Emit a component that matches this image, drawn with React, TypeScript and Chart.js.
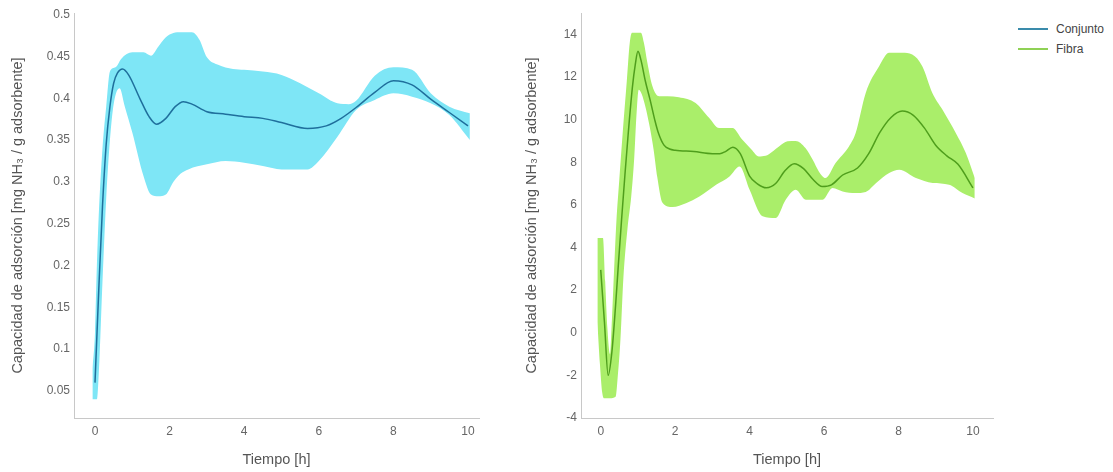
import React, { useEffect, useRef } from 'react';
import { Chart, registerables } from 'chart.js';

Chart.register(...registerables);

// ---------- data ----------
const seriesNames = ['Conjunto', 'Fibra'];

// Left panel: Conjunto (mean line)
const conjuntoX = [0, 0.1, 0.2, 0.3, 0.4, 0.5, 0.6, 0.74, 0.9, 1.2, 1.45, 1.65, 1.9, 2.15, 2.37, 2.6, 3, 3.5, 4, 4.5, 5, 5.7, 6.2, 6.6, 7, 7.5, 8, 8.5, 9, 9.5, 10];
const conjuntoY = [0.06, 0.17, 0.27, 0.345, 0.39, 0.418, 0.43, 0.435, 0.428, 0.4, 0.378, 0.369, 0.376, 0.39, 0.396, 0.393, 0.384, 0.381, 0.378, 0.376, 0.371, 0.364, 0.367, 0.376, 0.389, 0.407, 0.421, 0.416, 0.399, 0.383, 0.367];

// Left panel: band
const conjuntoUpperX = [-0.07, 0, 0.05, 0.1, 0.2, 0.3, 0.4, 0.55, 0.7, 0.85, 1.0, 1.3, 1.5, 1.7, 1.9, 2.1, 2.3, 2.6, 2.8, 3.0, 3.3, 3.7, 4.0, 4.5, 5.0, 5.5, 6.0, 6.5, 6.8, 7.0, 7.5, 8.0, 8.5, 9.0, 9.5, 10.05];
const conjuntoUpperY = [0.075, 0.12, 0.2, 0.26, 0.34, 0.39, 0.432, 0.437, 0.447, 0.453, 0.455, 0.455, 0.451, 0.462, 0.473, 0.478, 0.479, 0.479, 0.47, 0.449, 0.44, 0.435, 0.434, 0.432, 0.428, 0.418, 0.406, 0.394, 0.393, 0.397, 0.427, 0.437, 0.434, 0.406, 0.39, 0.382];
const conjuntoLowerX = [-0.07, 0.05, 0.1, 0.2, 0.3, 0.4, 0.5, 0.66, 0.8, 1.0, 1.3, 1.5, 1.7, 1.9, 2.1, 2.3, 2.5, 3.0, 3.5, 4.0, 4.5, 5.0, 5.7, 6.0, 6.5, 7.0, 7.5, 8.0, 8.5, 9.0, 9.5, 10.05];
const conjuntoLowerY = [0.04, 0.04, 0.07, 0.18, 0.28, 0.35, 0.393, 0.412, 0.39, 0.359, 0.307, 0.285, 0.283, 0.285, 0.3, 0.31, 0.315, 0.321, 0.325, 0.323, 0.319, 0.315, 0.315, 0.325, 0.354, 0.386, 0.398, 0.406, 0.402, 0.394, 0.38, 0.35];

// Right panel: Fibra (mean line)
const fibraX = [0, 0.1, 0.2, 0.3, 0.4, 0.47, 0.56, 0.65, 0.74, 0.85, 0.93, 1.0, 1.08, 1.2, 1.33, 1.45, 1.55, 1.7, 1.85, 2.0, 2.5, 3.0, 3.2, 3.35, 3.55, 3.75, 4.0, 4.2, 4.45, 4.7, 4.95, 5.2, 5.45, 5.7, 5.95, 6.2, 6.5, 6.9, 7.2, 7.5, 7.8, 8.1, 8.4, 8.7, 9.0, 9.3, 9.6, 10.0];
const fibraY = [2.95, 0.5, -2.0, -0.9, 1.3, 3.1, 5.3, 7.4, 9.37, 11.5, 12.6, 13.2, 12.8, 11.8, 10.9, 10.0, 9.37, 8.8, 8.62, 8.56, 8.5, 8.4, 8.4, 8.5, 8.7, 8.4, 7.35, 7.0, 6.8, 7.0, 7.6, 7.93, 7.7, 7.2, 6.86, 6.94, 7.4, 7.73, 8.4, 9.4, 10.1, 10.4, 10.2, 9.6, 8.8, 8.3, 7.9, 6.8];

// Right panel: band
const fibraUpperX = [-0.09, 0.06, 0.12, 0.18, 0.25, 0.3, 0.36, 0.42, 0.5, 0.6, 0.7, 0.78, 0.84, 1.08, 1.16, 1.25, 1.39, 1.57, 1.8, 2.1, 2.55, 2.91, 3.18, 3.54, 3.8, 4.05, 4.25, 4.43, 4.79, 5.02, 5.24, 5.5, 5.7, 5.86, 6.04, 6.31, 6.67, 6.85, 7.12, 7.48, 7.75, 8.1, 8.37, 8.64, 8.91, 9.18, 9.54, 9.81, 10.05];
const fibraUpperY = [4.45, 4.45, 2.4, 0.2, -1.0, 0.6, 3.0, 5.2, 7.2, 9.6, 11.8, 13.6, 14.07, 14.07, 13.6, 12.7, 11.56, 11.09, 11.1, 11.05, 10.78, 10.08, 9.6, 9.6, 9.06, 8.6, 8.27, 8.3, 8.74, 8.98, 9.0, 8.67, 8.1, 7.57, 7.26, 7.96, 8.74, 9.37, 11.25, 12.5, 13.13, 13.13, 13.05, 12.5, 11.25, 10.47, 9.37, 8.43, 7.26];
const fibraLowerX = [-0.09, -0.02, 0.04, 0.1, 0.25, 0.4, 0.46, 0.53, 0.61, 0.72, 0.82, 0.9, 0.96, 1.02, 1.1, 1.2, 1.3, 1.42, 1.52, 1.66, 1.93, 2.29, 2.65, 3.1, 3.46, 3.73, 4.0, 4.35, 4.7, 4.97, 5.24, 5.51, 5.96, 6.23, 6.5, 6.85, 7.12, 7.4, 7.75, 8.02, 8.47, 8.92, 9.36, 9.72, 10.05];
const fibraLowerY = [0.5, -1.5, -2.8, -3.07, -3.07, -3.0, -2.0, -0.3, 2.6, 4.9, 6.4, 8.2, 10.2, 11.4, 11.2, 10.6, 9.8, 8.6, 7.3, 6.1, 5.9, 6.08, 6.39, 6.94, 7.33, 7.8, 6.71, 5.46, 5.38, 6.24, 6.71, 6.24, 6.24, 6.79, 6.63, 6.55, 6.6, 7.02, 7.49, 7.65, 7.26, 7.02, 6.94, 6.55, 6.3];

// Tick labels
const xTickValues = [0, 2, 4, 6, 8, 10];
const leftYTickValues = [0.05, 0.1, 0.15, 0.2, 0.25, 0.3, 0.35, 0.4, 0.45, 0.5];
const rightYTickValues = [-4, -2, 0, 2, 4, 6, 8, 10, 12, 14];

const xTitle = 'Tiempo [h]';
const yTitle = 'Capacidad de adsorción [mg NH\u2083 / g adsorbente]';

// ---------- styles ----------
const FONT = "'Liberation Sans', Arial, sans-serif";
const TICK_COLOR = '#666';
const TITLE_COLOR = '#555';
const AXIS_COLOR = '#c8c8c8';

const pts = (xs: number[], ys: number[]) => xs.map((x, i) => ({ x, y: ys[i] }));

interface PanelCfg {
  lineX: number[]; lineY: number[];
  upX: number[]; upY: number[];
  loX: number[]; loY: number[];
  lineColor: string; bandColor: string;
  xMin: number; xMax: number; yMin: number; yMax: number;
  yTicks: number[];
  yAxisWidth: number;
  padLeft: number; padRight: number; padTop: number;
}

function buildConfig(c: PanelCfg): any {
  return {
    type: 'line',
    data: {
      datasets: [
        {
          label: 'upper',
          data: pts(c.upX, c.upY),
          borderWidth: 0,
          borderColor: 'rgba(0,0,0,0)',
          pointRadius: 0,
          fill: false,
          order: 2,
          cubicInterpolationMode: 'monotone',
        },
        {
          label: 'lower',
          data: pts(c.loX, c.loY),
          borderWidth: 0,
          borderColor: 'rgba(0,0,0,0)',
          backgroundColor: c.bandColor,
          pointRadius: 0,
          fill: '-1',
          order: 1,
          cubicInterpolationMode: 'monotone',
        },
        {
          label: 'mean',
          data: pts(c.lineX, c.lineY),
          borderWidth: 1.5,
          borderColor: c.lineColor,
          backgroundColor: c.lineColor,
          pointRadius: 0,
          fill: false,
          order: 0,
          cubicInterpolationMode: 'monotone',
        },
      ],
    },
    options: {
      responsive: false,
      animation: false,
      layout: { padding: { left: c.padLeft, right: c.padRight, top: c.padTop, bottom: 0 } },
      plugins: { legend: { display: false }, tooltip: { enabled: false } },
      scales: {
        x: {
          type: 'linear',
          min: c.xMin,
          max: c.xMax,
          afterBuildTicks: (s: any) => { s.ticks = xTickValues.map((v) => ({ value: v })); },
          afterFit: (s: any) => { s.height = 54; },
          grid: { display: false, drawTicks: false },
          border: { display: true, color: AXIS_COLOR, width: 1 },
          ticks: { color: TICK_COLOR, font: { family: FONT, size: 12 }, padding: 6, callback: (v: any) => String(v), maxRotation: 0 },
          title: { display: true, text: xTitle, color: TITLE_COLOR, font: { family: FONT, size: 14.5 }, padding: { top: 4, bottom: 3 } },
        },
        y: {
          type: 'linear',
          min: c.yMin,
          max: c.yMax,
          afterBuildTicks: (s: any) => { s.ticks = c.yTicks.map((v) => ({ value: v })); },
          afterFit: (s: any) => { s.width = c.yAxisWidth; },
          grid: { display: false, drawTicks: false },
          border: { display: true, color: AXIS_COLOR, width: 1 },
          ticks: { color: TICK_COLOR, font: { family: FONT, size: 12 }, padding: 4, callback: (v: any) => String(v) },
          title: { display: true, text: yTitle, color: TITLE_COLOR, font: { family: FONT, size: 14.5 }, padding: { top: 3, bottom: 0 } },
        },
      },
    },
  };
}

function Panel({ cfg, left, width }: { cfg: PanelCfg; left: number; width: number }) {
  const ref = useRef<HTMLCanvasElement | null>(null);
  useEffect(() => {
    if (!ref.current) return;
    const chart = new Chart(ref.current, buildConfig(cfg));
    return () => chart.destroy();
  }, []);
  return (
    <canvas
      ref={ref}
      width={width}
      height={472}
      style={{ position: 'absolute', left, top: 0, width, height: 472 }}
    />
  );
}

const leftCfg: PanelCfg = {
  lineX: conjuntoX, lineY: conjuntoY,
  upX: conjuntoUpperX, upY: conjuntoUpperY,
  loX: conjuntoLowerX, loY: conjuntoLowerY,
  lineColor: '#1f6f9c', bandColor: '#7ee6f6',
  xMin: -0.563, xMax: 10.295, yMin: 0.0177, yMax: 0.502,
  yTicks: leftYTickValues,
  yAxisWidth: 68,
  padLeft: 6, padRight: 11, padTop: 13,
};

const rightCfg: PanelCfg = {
  lineX: fibraX, lineY: fibraY,
  upX: fibraUpperX, upY: fibraUpperY,
  loX: fibraLowerX, loY: fibraLowerY,
  lineColor: '#4f9e1c', bandColor: '#aaee6a',
  xMin: -0.53, xMax: 10.54, yMin: -4, yMax: 15,
  yTicks: rightYTickValues,
  yAxisWidth: 61,
  padLeft: 20, padRight: 7, padTop: 13,
};

const legendColors = ['#3a8bab', '#8fd155'];

export default function App() {
  return (
    <div style={{ position: 'absolute', left: 0, top: 0, width: 1113, height: 472, background: '#fff' }}>
      <Panel cfg={leftCfg} left={0} width={490} />
      <Panel cfg={rightCfg} left={500} width={500} />
      <div style={{ position: 'absolute', left: 1018, top: 19, fontFamily: FONT, fontSize: 12, color: '#444' }}>
        {seriesNames.map((n, i) => (
          <div key={n} style={{ display: 'flex', alignItems: 'center', height: 20 }}>
            <div style={{ width: 30, height: 1.5, background: legendColors[i], marginRight: 8 }} />
            <span>{n}</span>
          </div>
        ))}
      </div>
    </div>
  );
}
